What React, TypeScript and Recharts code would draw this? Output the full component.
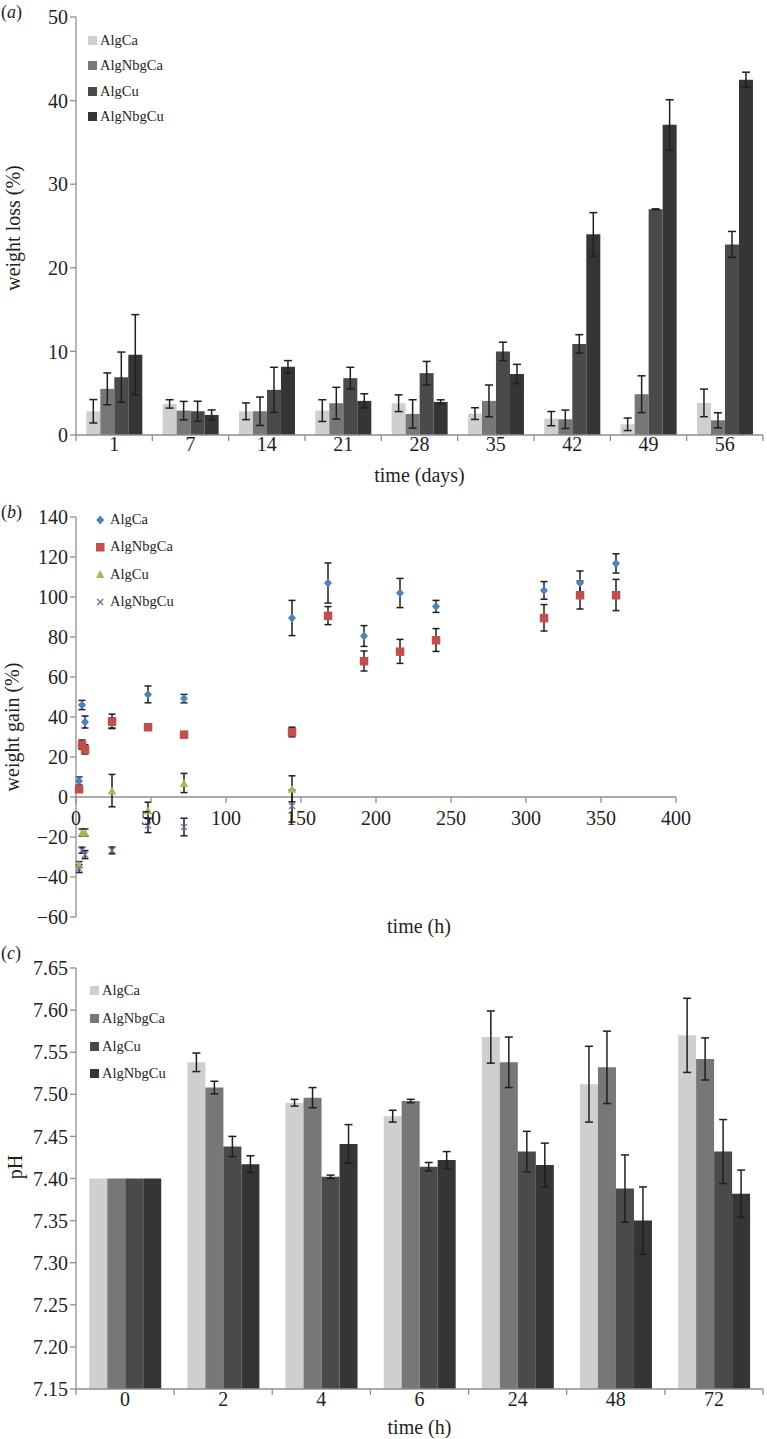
import React from "react";
import {
  BarChart,
  Bar,
  XAxis,
  YAxis,
  ErrorBar,
  Legend,
  ScatterChart,
  Scatter,
  ReferenceLine,
} from "recharts";

const FONT = "Liberation Serif, DejaVu Serif, serif";
const GREY = "#8e8e8e";
const INK = "#1f1f1f";
const W = 767;

// (a) weight loss (%) against time (days)
const days = ["1", "7", "14", "21", "28", "35", "42", "49", "56"];
const lossAlgCa = [2.84, 3.72, 2.84, 2.92, 3.8, 2.56, 1.96, 1.28, 3.84];
const lossAlgCaErr = [1.4, 0.5, 1.0, 1.3, 1.0, 0.7, 0.85, 0.75, 1.65];
const lossAlgNbgCa = [5.52, 2.92, 2.84, 3.8, 2.52, 4.08, 1.88, 4.88, 1.76];
const lossAlgNbgCaErr = [1.9, 1.1, 1.7, 1.9, 1.7, 1.9, 1.1, 2.2, 0.9];
const lossAlgCu = [6.92, 2.84, 5.4, 6.8, 7.4, 10.0, 10.9, 27.0, 22.8];
const lossAlgCuErr = [3.0, 1.2, 2.7, 1.3, 1.4, 1.1, 1.1, 0.05, 1.55];
const lossAlgNbgCu = [9.6, 2.4, 8.15, 4.08, 3.96, 7.3, 24.0, 37.1, 42.5];
const lossAlgNbgCuErr = [4.8, 0.6, 0.75, 0.85, 0.25, 1.15, 2.6, 3.0, 0.9];
const lossTicks = [0, 10, 20, 30, 40, 50];

// (b) weight gain (%) against time (h)
const gainHours = [2, 4, 6, 24, 48, 72, 144, 168, 192, 216, 240, 312, 336, 360];
const gainAlgCa = [8, 46, 37.5, 37, 51.3, 49.2, 89.5, 107, 80.5, 102, 95.3, 103.3, 107, 116.8];
const gainAlgCaErr = [2, 2.3, 3, 2.5, 4.2, 2.1, 8.8, 10, 5.2, 7.3, 3, 4.4, 6, 4.8];
const gainAlgNbgCa = [4, 26.2, 23.8, 37.8, 35, 31.3, 32.5, 90.7, 68, 72.8, 78.5, 89.6, 101, 101];
const gainAlgNbgCaErr = [0.8, 2.3, 2.3, 3.6, 1, 1, 2.4, 4.5, 5, 6, 5.7, 6.6, 7, 7.8];
const cuHours = [2, 4, 6, 24, 48, 72, 144];
const gainAlgCu = [-33.8, -17.8, -17.8, 3.2, -6.6, 7, 4.1];
const gainAlgCuErr = [1.5, 1.8, 1.8, 8.1, 4, 4.8, 6.5];
const gainAlgNbgCu = [-35.8, -26.6, -28.8, -26.7, -14.3, -15, -4.5];
const gainAlgNbgCuErr = [2, 1.5, 2, 1.7, 3.5, 4.4, 8];
const gainTicksY = [-60, -40, -20, 0, 20, 40, 60, 80, 100, 120, 140];
const gainTicksX = [0, 50, 100, 150, 200, 250, 300, 350, 400];

// (c) pH against time (h)
const hours = ["0", "2", "4", "6", "24", "48", "72"];
const phAlgCa = [7.4, 7.538, 7.49, 7.474, 7.568, 7.512, 7.57];
const phAlgCaErr = [0, 0.011, 0.004, 0.007, 0.031, 0.045, 0.044];
const phAlgNbgCa = [7.4, 7.508, 7.496, 7.492, 7.538, 7.532, 7.542];
const phAlgNbgCaErr = [0, 0.0075, 0.012, 0.002, 0.03, 0.043, 0.025];
const phAlgCu = [7.4, 7.438, 7.402, 7.414, 7.432, 7.388, 7.432];
const phAlgCuErr = [0, 0.012, 0.002, 0.005, 0.024, 0.04, 0.038];
const phAlgNbgCu = [7.4, 7.417, 7.441, 7.422, 7.416, 7.35, 7.382];
const phAlgNbgCuErr = [0, 0.01, 0.023, 0.01, 0.026, 0.04, 0.028];
const phTicks = [7.15, 7.2, 7.25, 7.3, 7.35, 7.4, 7.45, 7.5, 7.55, 7.6, 7.65];

const seriesNames = ["AlgCa", "AlgNbgCa", "AlgCu", "AlgNbgCu"];
const barFills = ["#cfcfcf", "#777779", "#4a4a4a", "#353535"];
const dotFills = ["#4f81bd", "#c0504d", "#9bbb59", "#8064a2"];

function buildTable(cats: string[], values: number[][], errs: number[][]) {
  return cats.map((cat, i) => {
    const row: Record<string, number | string> = { cat };
    seriesNames.forEach((name, k) => {
      row[name] = values[k][i];
      row[name + "Err"] = errs[k][i];
    });
    return row;
  });
}

const lossData = buildTable(
  days,
  [lossAlgCa, lossAlgNbgCa, lossAlgCu, lossAlgNbgCu],
  [lossAlgCaErr, lossAlgNbgCaErr, lossAlgCuErr, lossAlgNbgCuErr]
);
const phData = buildTable(
  hours,
  [phAlgCa, phAlgNbgCa, phAlgCu, phAlgNbgCu],
  [phAlgCaErr, phAlgNbgCaErr, phAlgCuErr, phAlgNbgCuErr]
);
const points = (xs: number[], ys: number[], es: number[]) =>
  xs.map((x, i) => ({ x, y: ys[i], err: es[i] }));
const gainSeries = [
  points(gainHours, gainAlgCa, gainAlgCaErr),
  points(gainHours, gainAlgNbgCa, gainAlgNbgCaErr),
  points(cuHours, gainAlgCu, gainAlgCuErr),
  points(cuHours, gainAlgNbgCu, gainAlgNbgCuErr),
];

// layout
const A = { top: 0, h: 490, mt: 17, mr: 4, xh: 55 };
const B = { top: 490, h: 450, mt: 27, mr: 91, xh: 23 };
const C = { top: 940, h: 499, mt: 28, mr: 4, xh: 50 };
const YW = 76;

const tickText = { fontSize: 20, fontFamily: FONT, fill: INK };
const axisLine = { stroke: GREY, strokeWidth: 1.3 };

// category ticks sit on the boundaries between groups (Excel style)
function BandTick(props: any) {
  const { x, y, payload, index, band, n, base } = props;
  const half = band / 2;
  return (
    <g>
      <line x1={x - half} x2={x - half} y1={y} y2={y + 6} stroke={GREY} strokeWidth={1.3} />
      {index === n - 1 && (
        <line x1={x + half} x2={x + half} y1={y} y2={y + 6} stroke={GREY} strokeWidth={1.3} />
      )}
      <text x={x} y={y + base} textAnchor="middle" {...tickText}>
        {payload.value}
      </text>
    </g>
  );
}

// x ticks of (b) drawn on the zero line instead of the bottom
function ZeroTick(props: any) {
  const { x, y, payload, shift } = props;
  const y0 = y - shift;
  return (
    <g>
      <line x1={x} x2={x} y1={y0} y2={y0 + 6} stroke={GREY} strokeWidth={1.3} />
      <text x={x} y={y0 + 28} textAnchor="middle" {...tickText}>
        {payload.value}
      </text>
    </g>
  );
}

function SideTitle(props: any) {
  const { tx, ty, text } = props;
  return (
    <text
      x={tx}
      y={ty}
      transform={`rotate(-90 ${tx} ${ty})`}
      textAnchor="middle"
      dominantBaseline="central"
      fontSize={20}
      fontFamily={FONT}
      fill={INK}
    >
      {text}
    </text>
  );
}

function BottomTitle(props: any) {
  const { tx, ty, text } = props;
  return (
    <text x={tx} y={ty} textAnchor="middle" fontSize={20} fontFamily={FONT} fill={INK}>
      {text}
    </text>
  );
}

function Marker({ kind, color }: { kind: number; color: string }) {
  if (kind === 0) return <polygon points="4.2,0.5 8.2,5 4.2,9.5 0.2,5" fill={color} />;
  if (kind === 1) return <rect x={0} y={1} width={8.5} height={8.5} fill={color} />;
  if (kind === 2) return <polygon points="4.2,1 8.4,9 0,9" fill={color} />;
  return (
    <g stroke={color} strokeWidth={1.3}>
      <line x1={1.2} y1={2} x2={7.2} y2={8} />
      <line x1={7.2} y1={2} x2={1.2} y2={8} />
    </g>
  );
}

// legend rows follow the series order, not the legend's own sorting
function KeyList(props: any) {
  const { row, gap, dots } = props;
  return (
    <div style={{ fontFamily: FONT, fontSize: 14.5, color: INK, textAlign: "left" }}>
      {seriesNames.map((name, k) => (
        <div key={name} style={{ display: "flex", alignItems: "center", height: row }}>
          {dots ? (
            <svg width={9} height={10} style={{ marginRight: gap }}>
              <Marker kind={k} color={dotFills[k]} />
            </svg>
          ) : (
            <span
              style={{ width: 9, height: 9, background: barFills[k], marginRight: gap, display: "inline-block" }}
            />
          )}
          <span>{name}</span>
        </div>
      ))}
    </div>
  );
}

const dotShape = (k: number) => (p: any) => {
  const { cx, cy } = p;
  if (cx == null || cy == null) return <g />;
  return (
    <g transform={`translate(${cx - 4.2} ${cy - 5})`}>
      <Marker kind={k} color={dotFills[k]} />
    </g>
  );
};

function PanelTag({ top, letter }: { top: number; letter: string }) {
  return (
    <div
      style={{
        position: "absolute",
        left: 1,
        top,
        fontFamily: FONT,
        fontSize: 18,
        color: INK,
        lineHeight: "18px",
      }}
    >
      (<i>{letter}</i>)
    </div>
  );
}

export default function App() {
  const bandA = (W - YW - A.mr) / days.length;
  const bandC = (W - YW - C.mr) / hours.length;
  const plotHB = B.h - B.mt - B.xh;
  const zeroShift = (plotHB * (0 - gainTicksY[0])) / (gainTicksY[gainTicksY.length - 1] - gainTicksY[0]);

  return (
    <div
      style={{
        position: "absolute",
        left: 0,
        top: 0,
        width: W,
        height: 1439,
        background: "#fff",
        fontFamily: FONT,
      }}
    >
      {/* (a) */}
      <div style={{ position: "absolute", left: 0, top: A.top }}>
        <BarChart
          width={W}
          height={A.h}
          data={lossData}
          margin={{ top: A.mt, right: A.mr, left: 0, bottom: 0 }}
          barCategoryGap="13.5%"
          barGap={0}
        >
          <XAxis
            dataKey="cat"
            height={A.xh}
            axisLine={axisLine}
            tickLine={false}
            tickSize={0}
            tickMargin={0}
            interval={0}
            tick={<BandTick band={bandA} n={days.length} base={16} />}
            label={<BottomTitle tx={(YW + W - A.mr) / 2} ty={482} text="time (days)" />}
          />
          <XAxis xAxisId="top" dataKey="cat" orientation="top" height={0} tick={false} tickLine={false} axisLine={axisLine} />
          <YAxis
            width={YW}
            domain={[0, 50]}
            ticks={lossTicks}
            axisLine={axisLine}
            tickLine={{ stroke: GREY, strokeWidth: 1.3 }}
            tick={tickText}
            label={<SideTitle tx={13} ty={228} text="weight loss (%)" />}
          />
          <YAxis yAxisId="right" orientation="right" width={0} domain={[0, 1]} tick={false} tickLine={false} axisLine={axisLine} />
          <Legend
            layout="vertical"
            verticalAlign="middle"
            align="center"
            wrapperStyle={{ left: 88, top: 28, width: "auto" }}
            content={<KeyList row={25.3} gap={3} />}
          />
          {seriesNames.map((name, k) => (
            <Bar key={name} dataKey={name} name={name} fill={barFills[k]} isAnimationActive={false}>
              <ErrorBar dataKey={name + "Err"} width={4} stroke={INK} strokeWidth={1.5} direction="y" />
            </Bar>
          ))}
        </BarChart>
      </div>

      {/* (b) */}
      <div style={{ position: "absolute", left: 0, top: B.top }}>
        <ScatterChart width={W} height={B.h} margin={{ top: B.mt, right: B.mr, left: 0, bottom: 0 }}>
          <XAxis
            type="number"
            dataKey="x"
            domain={[0, 400]}
            ticks={gainTicksX}
            height={B.xh}
            axisLine={false}
            tickLine={false}
            tickSize={0}
            tickMargin={0}
            interval={0}
            tick={<ZeroTick shift={zeroShift} />}
            label={<BottomTitle tx={419} ty={443} text="time (h)" />}
          />
          <YAxis
            type="number"
            dataKey="y"
            width={YW}
            domain={[-60, 140]}
            ticks={gainTicksY}
            interval={0}
            axisLine={axisLine}
            tickLine={{ stroke: GREY, strokeWidth: 1.3 }}
            tick={tickText}
            tickFormatter={(v: number) => (v < 0 ? `\u2212${-v}` : `${v}`)}
            label={<SideTitle tx={12} ty={237} text="weight gain (%)" />}
          />
          <ReferenceLine y={0} stroke={GREY} strokeWidth={1.3} />
          <Legend
            layout="vertical"
            verticalAlign="middle"
            align="center"
            wrapperStyle={{ left: 96, top: 16, width: "auto" }}
            content={<KeyList row={27.3} gap={5} dots />}
          />
          {seriesNames.map((name, k) => (
            <Scatter
              key={name}
              name={name}
              data={gainSeries[k]}
              fill={dotFills[k]}
              shape={dotShape(k)}
              isAnimationActive={false}
            >
              <ErrorBar dataKey="err" direction="y" width={3.5} stroke={INK} strokeWidth={1.5} />
            </Scatter>
          ))}
        </ScatterChart>
      </div>

      {/* (c) */}
      <div style={{ position: "absolute", left: 0, top: C.top }}>
        <BarChart
          width={W}
          height={C.h}
          data={phData}
          margin={{ top: C.mt, right: C.mr, left: 0, bottom: 0 }}
          barCategoryGap="13.5%"
          barGap={0}
        >
          <XAxis
            dataKey="cat"
            height={C.xh}
            axisLine={axisLine}
            tickLine={false}
            tickSize={0}
            tickMargin={0}
            interval={0}
            tick={<BandTick band={bandC} n={hours.length} base={17} />}
            label={<BottomTitle tx={(YW + W - C.mr) / 2} ty={494} text="time (h)" />}
          />
          <XAxis xAxisId="top" dataKey="cat" orientation="top" height={0} tick={false} tickLine={false} axisLine={axisLine} />
          <YAxis
            width={YW}
            domain={[7.15, 7.65]}
            ticks={phTicks}
            interval={0}
            allowDataOverflow
            axisLine={axisLine}
            tickLine={{ stroke: GREY, strokeWidth: 1.3 }}
            tick={tickText}
            tickFormatter={(v: number) => v.toFixed(2)}
            label={<SideTitle tx={15} ty={227} text="pH" />}
          />
          <YAxis yAxisId="right" orientation="right" width={0} domain={[0, 1]} tick={false} tickLine={false} axisLine={axisLine} />
          <Legend
            layout="vertical"
            verticalAlign="middle"
            align="center"
            wrapperStyle={{ left: 90, top: 37, width: "auto" }}
            content={<KeyList row={27.7} gap={3} />}
          />
          {seriesNames.map((name, k) => (
            <Bar key={name} dataKey={name} name={name} fill={barFills[k]} isAnimationActive={false}>
              <ErrorBar dataKey={name + "Err"} width={4} stroke={INK} strokeWidth={1.5} direction="y" />
            </Bar>
          ))}
        </BarChart>
      </div>

      <PanelTag top={3} letter="a" />
      <PanelTag top={503} letter="b" />
      <PanelTag top={944} letter="c" />
    </div>
  );
}
